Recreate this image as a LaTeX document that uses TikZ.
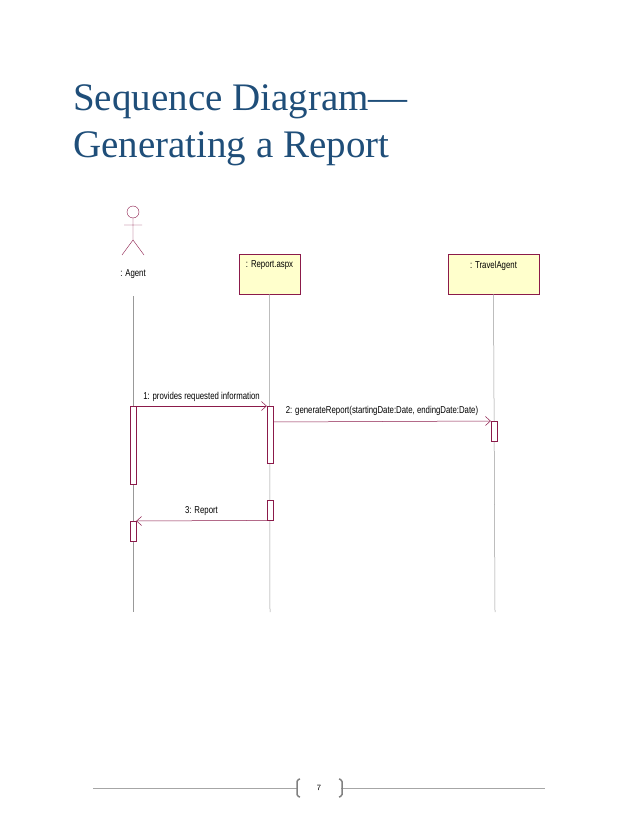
\documentclass[tikz,border=0pt]{standalone}
\usepackage{fontspec}
\setmainfont{Liberation Serif}
\newfontfamily\umlfont[FakeStretch=0.78]{Liberation Sans}
\usetikzlibrary{arrows.meta,positioning}
\definecolor{titleblue}{HTML}{1F4E79}
\definecolor{umlred}{HTML}{8B1A4A}
\definecolor{boxfill}{HTML}{FFFFCC}
\tikzset{
  obj/.style={draw=umlred, fill=boxfill, minimum height=40pt, inner sep=3pt, text depth=19pt, font=\umlfont\fontsize{10}{12}\selectfont},
  life/.style={draw=gray!80, line width=0.5pt},
  act/.style={draw=umlred, fill=white, minimum width=6pt, inner sep=0pt},
  msg/.style={draw=umlred, line width=0.5pt, -{Straight Barb[length=5pt,width=9pt]}},
  lbl/.style={font=\umlfont\fontsize{10}{12}\selectfont},
}
\begin{document}
\begin{tikzpicture}[x=1pt, y=-1pt]
\useasboundingbox (0,0) rectangle (638,826);
% title
\node[anchor=base west, text=titleblue, font=\fontsize{39}{46}\selectfont, inner sep=0pt] (title1) at (73,111) {Sequence Diagram---};
\node[anchor=base west, text=titleblue, font=\fontsize{39}{46}\selectfont, inner sep=0pt] (title2) at (73,158) {Generating a Report};
% actor
\draw[umlred] (133,212) circle (6);
\draw[umlred] (133,218) -- (133,240) (124,225) -- (142,225) (122,255) -- (133,240) -- (144,255);
\node[lbl] (agent) at (133,274) {: Agent};
% objects
\node[obj, minimum width=61pt] (report) at (269.5,274) {: Report.aspx};
\node[obj, minimum width=91pt] (travel) at (493.5,274) {: TravelAgent};
% lifelines
\coordinate (agentEnd) at (133,612);
\coordinate (reportEnd) at (270,612);
\coordinate (travelEnd) at (495,612);
\draw[life] (133,296) -- (agentEnd);
\draw[life] (report.south) -- (reportEnd);
\draw[life] (travel.south) -- (travelEnd);
% activations
\node[act, minimum height=78pt, anchor=north] (a1) at (133,406) {};
\node[act, minimum height=57pt, anchor=north] (r1) at (270,406) {};
\node[act, minimum height=20pt, anchor=north] (t1) at (494,421) {};
\node[act, minimum height=20pt, anchor=north] (r2) at (270,500) {};
\node[act, minimum height=20pt, anchor=north] (a2) at (133,521) {};
% messages
\draw[msg] (a1.north east) -- node[lbl, above=1pt] {1: provides requested information} (r1.north west);
\draw[msg] ([yshift=-16pt]r1.north east) -- node[lbl, above=2pt] {2: generateReport(startingDate:Date, endingDate:Date)} (t1.north west);
\draw[msg] (r2.south west) -- node[lbl, above=2pt] {3: Report} (a2.north east);
% footer
\draw[gray!70, line width=1pt] (93,788) -- (297,788) (341,788) -- (545,788);
\draw[gray, line width=1.5pt, rounded corners=1.5pt] (300,779) -- (297,780) -- (297,796) -- (300,797) (339,779) -- (342,780) -- (342,796) -- (339,797);
\node[font=\fontsize{8}{9}\selectfont\sffamily] (page) at (319,788) {7};
\end{tikzpicture}
\end{document}
